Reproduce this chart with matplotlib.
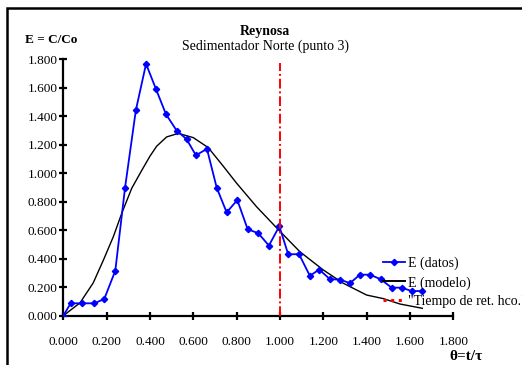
import numpy as np
import matplotlib
matplotlib.use("Agg")
import matplotlib.pyplot as plt
from matplotlib.lines import Line2D
from matplotlib.patches import Rectangle

plt.rcParams["font.family"] = ["Liberation Serif", "DejaVu Serif"]

# Datos medidos (theta = t/tau, E = C/Co)
theta_datos = [0.000, 0.034, 0.085, 0.143, 0.189, 0.240, 0.285, 0.335, 0.382,
               0.428, 0.474, 0.523, 0.569, 0.612, 0.663, 0.708, 0.754, 0.803,
               0.851, 0.900, 0.949, 0.997, 1.038, 1.088, 1.138, 1.181, 1.231,
               1.277, 1.323, 1.369, 1.415, 1.465, 1.515, 1.561, 1.608, 1.657]
e_datos = [0.000, 0.087, 0.087, 0.087, 0.117, 0.316, 0.899, 1.444, 1.768,
           1.590, 1.414, 1.300, 1.239, 1.126, 1.171, 0.899, 0.725, 0.812,
           0.607, 0.579, 0.492, 0.628, 0.431, 0.432, 0.280, 0.324, 0.256,
           0.254, 0.228, 0.288, 0.288, 0.256, 0.197, 0.197, 0.173, 0.173]

# Curva del modelo
theta_modelo = [0.000, 0.077, 0.138, 0.185, 0.231, 0.270, 0.316, 0.362, 0.400,
                0.431, 0.477, 0.531, 0.600, 0.669, 0.738, 0.800, 0.892, 0.995,
                1.092, 1.200, 1.292, 1.400, 1.477, 1.554, 1.657]
e_modelo = [0.000, 0.090, 0.230, 0.390, 0.555, 0.720, 0.895, 1.020, 1.120,
            1.190, 1.255, 1.280, 1.250, 1.180, 1.050, 0.930, 0.765, 0.600,
            0.449, 0.321, 0.228, 0.145, 0.120, 0.082, 0.052]

t_retencion = 1.0
ticks = [0.0, 0.2, 0.4, 0.6, 0.8, 1.0, 1.2, 1.4, 1.6, 1.8]

W, H = 522, 365
fig = plt.figure(figsize=(W / 100, H / 100), dpi=100)
ax = fig.add_axes([63.3 / W, 1 - 315.7 / H, 390 / W, 256.4 / H])

ax.plot(theta_datos, e_datos, color="#0000FF", lw=1.3, marker="D",
        markersize=3.2, zorder=3)
ax.plot(theta_modelo, e_modelo, color="black", lw=1.0, zorder=2)
ax.axvline(t_retencion, ymax=0.985, color="#FF0000", lw=1.4,
           linestyle=(0, (5, 1.5, 1, 1.5)), zorder=4)

ax.set_xlim(0, 1.8)
ax.set_ylim(0, 1.8)
ax.set_xticks(ticks)
ax.set_yticks(ticks)
ax.set_xticklabels([f"{t:.3f}" for t in ticks])
ax.set_yticklabels([f"{t:.3f}" for t in ticks])

for side in ("top", "right"):
    ax.spines[side].set_visible(False)
for side in ("left", "bottom"):
    ax.spines[side].set_linewidth(1.6)
ax.tick_params(axis="both", direction="inout", length=6, width=1.6,
               labelsize=9.5)
ax.tick_params(axis="x", pad=11.5)
ax.tick_params(axis="y", pad=1)

# Titulos y rotulos
fig.text(265 / W, 1 - 31 / H, "Reynosa", ha="center", va="center",
         fontsize=10, fontweight="bold")
fig.text(265 / W, 1 - 46 / H, "Sedimentador Norte (punto 3)", ha="center",
         va="center", fontsize=10)
fig.text(25 / W, 1 - 40 / H, "E = C/Co", ha="left", va="center",
         fontsize=9.5, fontweight="bold")
fig.text(466 / W, 1 - 356 / H, "θ=t/τ", ha="center", va="center",
         fontsize=11, fontweight="bold")

# Leyenda
handles = [
    Line2D([0], [0], color="#0000FF", lw=1.3, marker="D", markersize=3.2),
    Line2D([0], [0], color="black", lw=1.4),
    Line2D([0], [0], color="#FF0000", lw=2.2, linestyle=(0, (1, 1.5))),
]
labels = ["E (datos)", "E (modelo)", '"Tiempo de ret. hco."']
fig.legend(handles, labels, loc="upper left",
           bbox_to_anchor=(383 / W, 1 - 257 / H), frameon=False,
           fontsize=10, handlelength=1.6, handletextpad=0.2,
           labelspacing=0.4, borderpad=0, borderaxespad=0)

# Marco del grafico
fig.patches.append(Rectangle((6.5 / W, -0.5), 2.0, 1.5 - 7.5 / H,
                             transform=fig.transFigure, fill=False,
                             edgecolor="black", lw=1.8))

fig.savefig("out.png", dpi=100)
